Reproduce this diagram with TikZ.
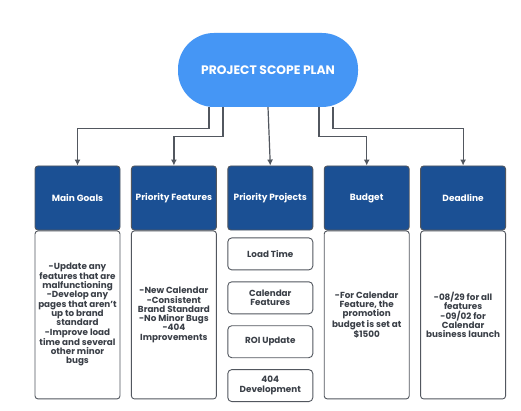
\documentclass[tikz,border=0pt]{standalone}
\usepackage{fontspec}
\setmainfont{Poppins}[BoldFont={Poppins Bold}]
\definecolor{pillblue}{RGB}{69, 150, 245}
\definecolor{headblue}{RGB}{27, 80, 148}
\definecolor{linegray}{RGB}{82, 87, 95}
\definecolor{textgray}{RGB}{58, 63, 71}
\usetikzlibrary{arrows.meta, positioning, calc}
\tikzset{
  boxnode/.style={rectangle, rounded corners=3pt, draw=linegray, line width=0.9pt, minimum width=85pt, inner sep=1pt, align=center},
  titlenode/.style={rectangle, rounded corners=36pt, fill=pillblue, minimum width=180pt, minimum height=74pt, text=white, font=\fontsize{12.3}{14}\selectfont\bfseries},
  headnode/.style={boxnode, fill=headblue, minimum height=64pt, text=white, font=\fontsize{9}{10}\selectfont\bfseries},
  bodynode/.style={boxnode, fill=white, minimum height=168pt, text=textgray, font=\fontsize{8.8}{9.3}\selectfont\bfseries},
  projnode/.style={boxnode, fill=white, rounded corners=4pt, minimum height=32pt, text=textgray, font=\fontsize{8.8}{9.5}\selectfont\bfseries},
  conn/.style={-{Latex[length=6pt, width=6pt]}, linegray, line width=1.2pt},
}
\begin{document}
\begin{tikzpicture}[x=1pt, y=1pt, node distance=10.5pt]
  \fill[white] (0,0) rectangle (521,410);
  \useasboundingbox (0,0) rectangle (521,410);
  \node[titlenode] (title) at (268,340) {PROJECT SCOPE PLAN};
  % header row
  \node[headnode] (mg) at (77.5,212) {Main Goals};
  \node[headnode] (pf) [right=of mg] {Priority Features};
  \node[headnode] (pp) [right=of pf] {Priority Projects};
  \node[headnode] (bu) [right=of pp] {Budget};
  \node[headnode] (dl) [right=of bu] {Deadline};
  % bodies
  \node[bodynode] (mgb) [below=0pt of mg] {-Update any\\features that are\\malfunctioning\\-Develop any\\pages that aren't\\up to brand\\standard\\-Improve load\\time and several\\other minor\\bugs};
  \node[bodynode] (pfb) [below=0pt of pf] {-New Calendar\\-Consistent\\Brand Standard\\-No Minor Bugs\\-404\\Improvements};
  \node[bodynode] (bub) [below=0pt of bu] {-For Calendar\\Feature, the\\promotion\\budget is set at\\\$1500};
  \node[bodynode] (dlb) [below=0pt of dl] {-08/29 for all\\features\\-09/02 for\\Calendar\\business launch};
  \node[projnode] (lt) [below=7pt of pp] {Load Time};
  \node[projnode] (cf) [below=11pt of lt] {Calendar\\Features};
  \node[projnode] (ru) [below=11pt of cf] {ROI Update};
  \node[projnode] (dv) [below=11pt of ru] {404\\Development};
  % connectors
  \draw[conn] ([xshift=-59pt]title.south) -- ++(0,-21) -| (mg.north);
  \draw[conn] ([xshift=-45pt]title.south) -- ++(0,-29.5) -| (pf.north);
  \draw[conn] (title.south) -- (pp.north);
  \draw[conn] ([xshift=51pt]title.south) -- ++(0,-29.5) -| (bu.north);
  \draw[conn] ([xshift=65pt]title.south) -- ++(0,-21) -| (dl.north);
\end{tikzpicture}
\end{document}
